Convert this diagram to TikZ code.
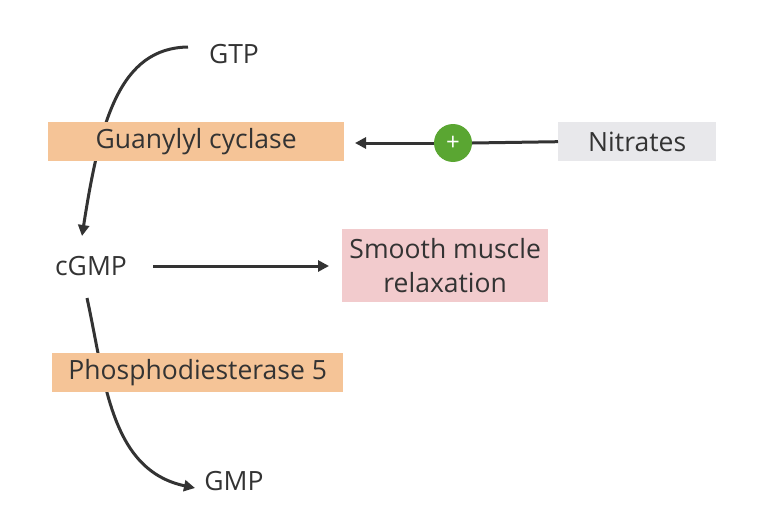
\documentclass[tikz,border=0pt]{standalone}
\usepackage{fontspec}
\setmainfont{Open Sans}
\usetikzlibrary{arrows.meta,backgrounds}
\definecolor{ink}{HTML}{333333}
\definecolor{peach}{HTML}{F5C497}
\definecolor{greybox}{HTML}{E8E8EB}
\definecolor{pinkbox}{HTML}{F2CBCD}
\definecolor{plusgreen}{HTML}{5AA632}
\tikzset{
  lbl/.style={font=\fontsize{26.5}{34}\selectfont, text=ink, inner sep=0pt},
  boxnode/.style={lbl, anchor=north west, inner sep=0pt, align=center},
  conn/.style={draw=ink, line width=3pt},
  tip/.style={-{Triangle[length=11pt,width=11pt]}},
}
\begin{document}
\begin{tikzpicture}[x=1pt,y=-1pt]
\useasboundingbox (0,0) rectangle (768,527);
% boxes
\node[boxnode, fill=peach, minimum width=296pt, minimum height=39pt] (gc) at (48,122) {Guanylyl cyclase};
\node[boxnode, fill=greybox, minimum width=158pt, minimum height=39pt] (nit) at (558,122) {Nitrates};
\node[boxnode, fill=pinkbox, minimum width=206pt, minimum height=73pt] (smr) at (342,229) {Smooth muscle\\relaxation};
\node[boxnode, fill=peach, minimum width=291pt, minimum height=39pt] (pde) at (52,353) {Phosphodiesterase 5};
% labels
\node[lbl] (gtp) at (234,54) {GTP};
\node[lbl] (cgmp) at (91,266) {cGMP};
\node[lbl] (gmp) at (234,481) {GMP};
% plus circle
\node[circle, fill=plusgreen, minimum size=38pt, inner sep=0pt, text=white, font=\fontsize{24}{24}\selectfont] (plus) at (453,143) {+};
\coordinate (gtpend) at (188,47);
\coordinate (cgmptop) at (82,236);
\coordinate (cgmpbot) at (87,298);
\coordinate (gmpend) at (195,488);
\coordinate (gcright) at (355,143);
\coordinate (smrleft) at (329,266);
\coordinate (cgmpright) at (153,266);
\begin{scope}[on background layer]
\draw[conn, tip] (gtpend) .. controls (120,48) and (100,120) .. (cgmptop);
\draw[conn, tip] (cgmpbot) .. controls (105,380) and (110,470) .. (gmpend);
\end{scope}
\draw[conn] (nit.west) -- (plus.east);
\draw[conn, tip] (plus.west) -- (gcright);
\draw[conn, tip] (cgmpright) -- (smrleft);
\end{tikzpicture}
\end{document}
